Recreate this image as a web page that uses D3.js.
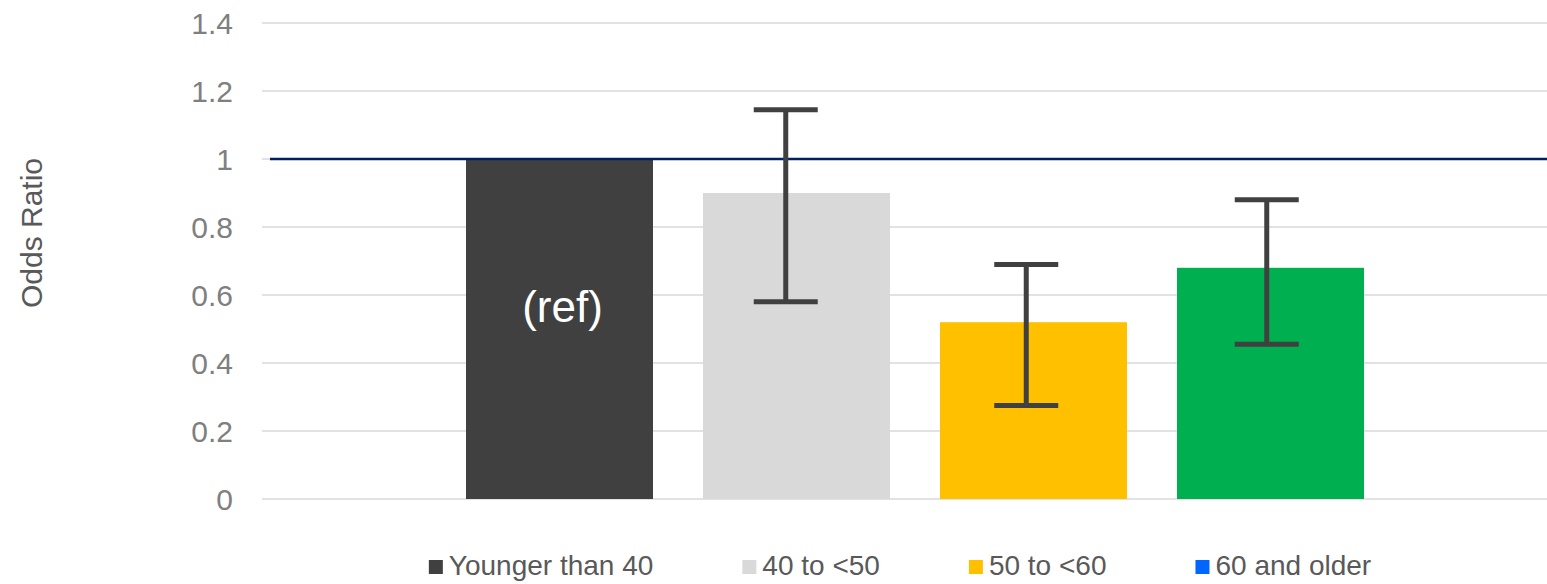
<!DOCTYPE html>
<html>
<head>
<meta charset="utf-8">
<script src="https://cdn.jsdelivr.net/npm/d3@7/dist/d3.min.js"></script>
<style>
  html, body { margin: 0; padding: 0; background: #ffffff; }
  svg { display: block; font-family: "Liberation Sans", Arial, sans-serif; }
</style>
</head>
<body>
<svg id="chart" width="1547" height="584"></svg>
<script>
// ---- data ----
const categories = ["Younger than 40", "40 to <50", "50 to <60", "60 and older"];
const oddsRatios = [1.0, 0.9, 0.52, 0.68];
const ciLower = [null, 0.58, 0.275, 0.455];
const ciUpper = [null, 1.145, 0.69, 0.88];
const barColors = ["#404040", "#d9d9d9", "#ffc000", "#00b050"];
const legendColors = ["#404040", "#d9d9d9", "#ffc000", "#0066ff"];
const yTicks = [0, 0.2, 0.4, 0.6, 0.8, 1, 1.2, 1.4];
const referenceValue = 1;
const refLabel = "(ref)";
const yTitle = "Odds Ratio";

// ---- layout ----
const svg = d3.select("#chart");
const plotLeft = 262, plotRight = 1547;

const y = d3.scaleLinear().domain([0, 1.4]).range([499, 23]);
const x = d3.scaleBand().domain(categories).range([441, 1389])
  .paddingInner(50 / 237).paddingOuter(25 / 237);
const xErr = d3.scaleBand().domain(categories).range([425, 1387]).padding(0);

// gridlines
svg.append("g").selectAll("line").data(yTicks).join("line")
  .attr("x1", plotLeft).attr("x2", plotRight)
  .attr("y1", d => y(d)).attr("y2", d => y(d))
  .attr("stroke", "#d9d9d9").attr("stroke-width", 1.5);

// y axis labels
const yAxis = d3.axisLeft(y).tickValues(yTicks).tickSize(0).tickPadding(0)
  .tickFormat(d => d3.format("~g")(d));
const ga = svg.append("g").attr("transform", "translate(233,0)").call(yAxis);
ga.select(".domain").remove();
ga.selectAll("text").attr("fill", "#7f7f7f").attr("font-size", 30)
  .attr("font-family", "Liberation Sans, Arial, sans-serif").attr("dy", "0.36em");

// y title
svg.append("text").attr("transform", "translate(42,233) rotate(-90)")
  .attr("text-anchor", "middle").attr("font-size", 30).attr("fill", "#595959")
  .text(yTitle);

// bars
svg.append("g").selectAll("rect").data(categories).join("rect")
  .attr("x", d => x(d)).attr("width", x.bandwidth())
  .attr("y", (d, i) => y(oddsRatios[i]))
  .attr("height", (d, i) => y(0) - y(oddsRatios[i]))
  .attr("fill", (d, i) => barColors[i]);

// reference line
svg.append("line")
  .attr("x1", 270).attr("x2", plotRight)
  .attr("y1", y(referenceValue)).attr("y2", y(referenceValue))
  .attr("stroke", "#002060").attr("stroke-width", 2.6);

// ref label
svg.append("text")
  .attr("x", x(categories[0]) + x.bandwidth() / 2 + 3)
  .attr("y", y(0.52))
  .attr("text-anchor", "middle").attr("font-size", 44).attr("fill", "#ffffff")
  .text(refLabel);

// error bars
const errData = categories.map((c, i) => ({ c, lo: ciLower[i], hi: ciUpper[i] }))
  .filter(d => d.lo != null);
const eg = svg.append("g").attr("stroke", "#404040").attr("stroke-width", 5);
const cx = d => xErr(d.c) + xErr.bandwidth() / 2;
eg.selectAll(".stem").data(errData).join("line")
  .attr("x1", cx).attr("x2", cx)
  .attr("y1", d => y(d.lo)).attr("y2", d => y(d.hi));
eg.selectAll(".capHi").data(errData).join("line")
  .attr("x1", d => cx(d) - 32).attr("x2", d => cx(d) + 32)
  .attr("y1", d => y(d.hi)).attr("y2", d => y(d.hi));
eg.selectAll(".capLo").data(errData).join("line")
  .attr("x1", d => cx(d) - 32).attr("x2", d => cx(d) + 32)
  .attr("y1", d => y(d.lo)).attr("y2", d => y(d.lo));

// legend
const lg = svg.append("g");
let cursor = 0;
categories.forEach((c, i) => {
  const g = lg.append("g").attr("transform", `translate(${cursor},0)`);
  g.append("rect").attr("x", 0).attr("y", -15).attr("width", 14).attr("height", 14)
    .attr("fill", legendColors[i]);
  const t = g.append("text").attr("x", 20).attr("y", 0).attr("font-size", 28)
    .attr("fill", "#595959").text(c);
  const w = t.node().getComputedTextLength();
  cursor += 20 + w + 89;
});
const totalW = cursor - 89;
lg.attr("transform", `translate(${900 - totalW / 2},575)`);
</script>
</body>
</html>
